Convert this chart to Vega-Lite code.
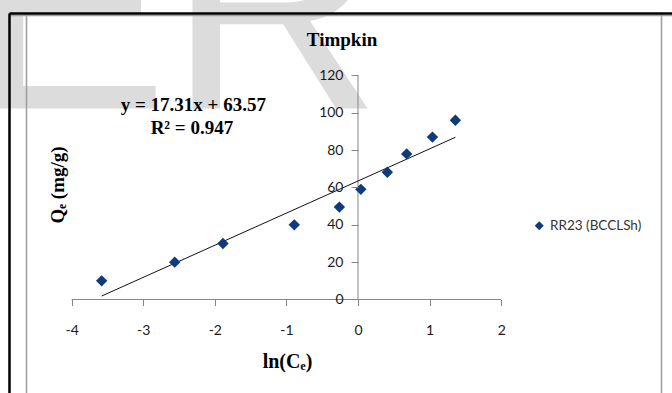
{
  "$schema": "https://vega.github.io/schema/vega-lite/v6.json",
  "width": 663,
  "height": 380,
  "autosize": {"type": "none"},
  "padding": {"left": 9, "top": 13, "right": 0, "bottom": 0},
  "background": "white",
  "config": {"view": {"stroke": null}, "axis": {"grid": false}},
  "data": {
    "values": [
      {"lnCe": -3.58, "Qe": 10, "series": "RR23 (BCCLSh)"},
      {"lnCe": -2.56, "Qe": 20, "series": "RR23 (BCCLSh)"},
      {"lnCe": -1.886, "Qe": 30, "series": "RR23 (BCCLSh)"},
      {"lnCe": -0.89, "Qe": 40, "series": "RR23 (BCCLSh)"},
      {"lnCe": -0.26, "Qe": 49.5, "series": "RR23 (BCCLSh)"},
      {"lnCe": 0.04, "Qe": 59, "series": "RR23 (BCCLSh)"},
      {"lnCe": 0.41, "Qe": 68.2, "series": "RR23 (BCCLSh)"},
      {"lnCe": 0.68, "Qe": 78, "series": "RR23 (BCCLSh)"},
      {"lnCe": 1.04, "Qe": 87, "series": "RR23 (BCCLSh)"},
      {"lnCe": 1.36, "Qe": 96, "series": "RR23 (BCCLSh)"}
    ]
  },
  "layer": [
    {
      "data": {"values": [{}]},
      "mark": {"type": "rule", "color": "#868686", "strokeWidth": 1},
      "encoding": {
        "x": {"datum": 0, "type": "quantitative", "scale": {"domain": [-4.8743, 4.3855], "nice": false, "zero": false},
          "axis": {"orient": "top", "offset": 0, "domain": false, "ticks": false, "labels": false, "grid": false, "title": "ER", "titleFont": "Liberation Sans", "titleFontSize": 295, "titleFontWeight": "normal", "titleColor": "#dcdcdc", "titleX": -38, "titleY": 95, "titleAlign": "left", "titleBaseline": "alphabetic", "titleAngle": 0, "titleLimit": 3000, "zindex": 0}},
        "y": {"datum": 0, "type": "quantitative", "scale": {"domain": [-50.09, 153.48], "nice": false, "zero": false},
          "axis": {"orient": "right", "offset": -11, "domain": true, "domainColor": "#a0a0a0", "domainWidth": 1.6, "ticks": false, "labels": false, "grid": false, "title": null, "zindex": 1}},
        "y2": {"datum": 120}
      }
    },
    {
      "data": {"values": [{}]},
      "mark": {"type": "rule", "color": "#868686", "strokeWidth": 1},
      "encoding": {
        "x": {"datum": -4, "type": "quantitative", "scale": {"domain": [-4.8743, 4.3855], "nice": false, "zero": false},
          "axis": {"orient": "top", "offset": -2, "domain": true, "domainColor": "#a0a0a0", "domainWidth": 1.6, "ticks": false, "labels": false, "grid": false, "title": null, "zindex": 1}},
        "x2": {"datum": 2},
        "y": {"datum": 0, "type": "quantitative", "scale": {"domain": [-50.09, 153.48], "nice": false, "zero": false},
          "axis": {"orient": "left", "offset": -17, "domain": true, "domainColor": "#a0a0a0", "domainWidth": 1.6, "ticks": false, "labels": false, "grid": false, "title": null, "zindex": 1}}
      }
    },
    {
      "transform": [{"regression": "Qe", "on": "lnCe"}],
      "mark": {"type": "line", "color": "#111111", "strokeWidth": 1},
      "encoding": {
        "x": {"field": "lnCe", "type": "quantitative", "scale": {"domain": [-4.8743, 4.3855], "nice": false, "zero": false},
          "axis": {"orient": "top", "offset": 0, "domain": true, "domainColor": "#000000", "domainWidth": 2.5, "ticks": false, "labels": false, "grid": false, "title": null, "zindex": 2}},
        "y": {"field": "Qe", "type": "quantitative", "scale": {"domain": [-50.09, 153.48], "nice": false, "zero": false},
          "axis": {"orient": "left", "offset": 0, "domain": true, "domainColor": "#000000", "domainWidth": 2.5, "ticks": false, "labels": false, "grid": false, "title": null, "zindex": 2}}
      }
    },
    {
      "mark": {"type": "point", "shape": "diamond", "filled": true, "size": 130, "opacity": 1},
      "encoding": {
        "x": {"field": "lnCe", "type": "quantitative", "scale": {"domain": [-4.8743, 4.3855], "nice": false, "zero": false},
          "axis": {"orient": "bottom", "offset": -93.5, "values": [-4, -3, -2, -1, 0, 1, 2], "domain": false, "ticks": true, "tickSize": 6, "tickColor": "#868686", "tickWidth": 1, "labels": true, "labelFont": "Lato", "labelFontSize": 14, "labelColor": "#1a1a1a", "labelPadding": 18, "labelFlush": false, "labelOverlap": false, "labelExpr": "'' + datum.value", "grid": false, "title": "ln(Cₑ)", "titleFont": "Liberation Serif", "titleFontSize": 20, "titleFontWeight": "bold", "titleColor": "#000000", "titleX": 278, "titleY": 68, "titleAlign": "center", "titleBaseline": "alphabetic", "titleAngle": 0, "zindex": 1}},
        "y": {"field": "Qe", "type": "quantitative", "scale": {"domain": [-50.09, 153.48], "nice": false, "zero": false},
          "axis": {"orient": "left", "offset": -349, "values": [0, 20, 40, 60, 80, 100, 120], "domain": false, "ticks": true, "tickSize": 7, "tickColor": "#868686", "tickWidth": 1, "labels": true, "labelFont": "Lato", "labelFontSize": 14, "labelColor": "#1a1a1a", "labelPadding": 8, "labelFlush": false, "labelOverlap": false, "grid": false, "title": "Qₑ (mg/g)", "titleFont": "Liberation Serif", "titleFontSize": 19, "titleFontWeight": "bold", "titleColor": "#000000", "titleAngle": -90, "titleX": -301, "titleY": 171.5, "titleAlign": "center", "titleBaseline": "middle", "zindex": 1}},
        "color": {"field": "series", "type": "nominal", "scale": {"range": ["#0f3a7c"]},
          "legend": {"title": null, "orient": "none", "legendX": 523.5, "legendY": 206, "symbolSize": 80, "symbolType": "diamond", "labelFont": "Lato", "labelFontSize": 13.5, "labelColor": "#333333", "labelOffset": 4, "padding": 0}},
        "shape": {"field": "series", "type": "nominal", "scale": {"range": ["diamond"]},
          "legend": {"title": null, "orient": "none", "legendX": 523.5, "legendY": 206, "symbolSize": 80, "symbolType": "diamond", "labelFont": "Lato", "labelFontSize": 13.5, "labelColor": "#333333", "labelOffset": 4, "padding": 0}}
      }
    },
    {
      "data": {"values": [{}]},
      "mark": {"type": "text", "text": "Timpkin", "font": "Liberation Serif", "fontSize": 19, "fontWeight": "bold", "color": "#000000", "align": "center", "baseline": "alphabetic"},
      "encoding": {
        "x": {"datum": -0.223, "type": "quantitative", "scale": {"domain": [-4.8743, 4.3855], "nice": false, "zero": false}, "axis": null},
        "y": {"datum": 135.8, "type": "quantitative", "scale": {"domain": [-50.09, 153.48], "nice": false, "zero": false}, "axis": null}
      }
    },
    {
      "data": {"values": [{}]},
      "mark": {"type": "text", "text": "y = 17.31x + 63.57", "font": "Liberation Serif", "fontSize": 19, "fontWeight": "bold", "color": "#000000", "align": "center", "baseline": "alphabetic"},
      "encoding": {
        "x": {"datum": -2.30, "type": "quantitative", "scale": {"domain": [-4.8743, 4.3855], "nice": false, "zero": false}, "axis": null},
        "y": {"datum": 101, "type": "quantitative", "scale": {"domain": [-50.09, 153.48], "nice": false, "zero": false}, "axis": null}
      }
    },
    {
      "data": {"values": [{}]},
      "mark": {"type": "text", "text": "R² = 0.947", "font": "Liberation Serif", "fontSize": 19, "fontWeight": "bold", "color": "#000000", "align": "center", "baseline": "alphabetic"},
      "encoding": {
        "x": {"datum": -2.32, "type": "quantitative", "scale": {"domain": [-4.8743, 4.3855], "nice": false, "zero": false}, "axis": null},
        "y": {"datum": 88.7, "type": "quantitative", "scale": {"domain": [-50.09, 153.48], "nice": false, "zero": false}, "axis": null}
      }
    }
  ],
  "resolve": {"axis": {"x": "independent", "y": "independent"}}
}
